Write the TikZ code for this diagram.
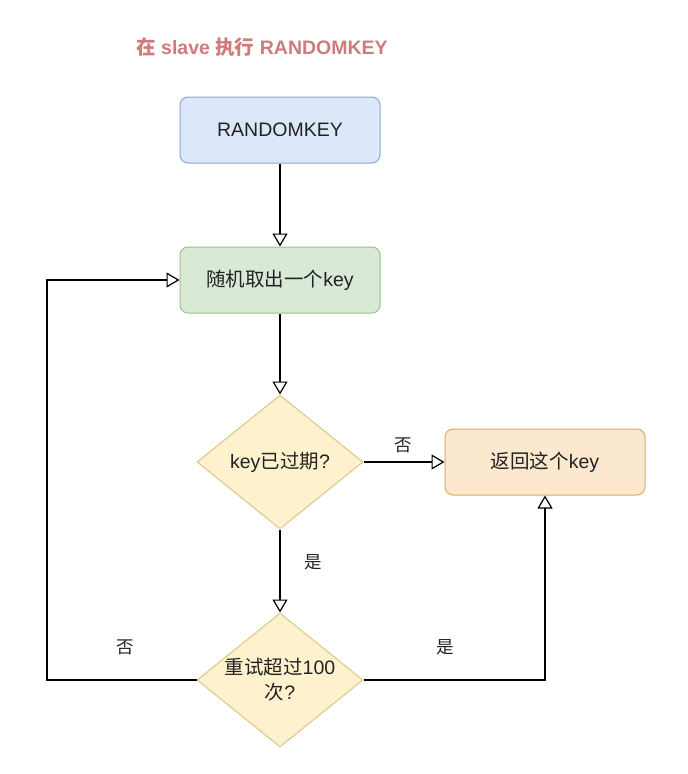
\documentclass[tikz,border=0pt]{standalone}
\usepackage{fontspec}
\setmainfont{Liberation Sans}
\newfontfamily\cjk{Noto Sans CJK SC}
\usetikzlibrary{arrows.meta,shapes.geometric}
\definecolor{bluefill}{HTML}{DCE7FA}
\definecolor{blueline}{HTML}{8EA6CC}
\definecolor{greenfill}{HTML}{D8EAD6}
\definecolor{greenline}{HTML}{9CC08A}
\definecolor{yelfill}{HTML}{FDF2CD}
\definecolor{yelline}{HTML}{DCC587}
\definecolor{orafill}{HTML}{FCE8CF}
\definecolor{oraline}{HTML}{D8AE5E}
\definecolor{titlered}{HTML}{CF7B7B}
\definecolor{txt}{HTML}{222222}
\begin{document}
\begin{tikzpicture}[x=1pt,y=-1pt,
  procbox/.style={rectangle, rounded corners=8pt, minimum width=200pt, minimum height=66pt, line width=1pt, font=\fontsize{19.5}{23}\selectfont, text=txt},
  decbox/.style={diamond, minimum width=166pt, minimum height=134pt, inner sep=-6pt, fill=yelfill, draw=yelline, line width=1pt, font=\fontsize{19.5}{25}\selectfont, text=txt, align=center},
  lbl/.style={font=\cjk\fontsize{17.5}{20}\selectfont, text=txt},
  arr/.style={line width=1.2pt, -{Triangle[open, length=13pt, width=15pt, line width=1.2pt]}}
]
\useasboundingbox (0,0) rectangle (688,774);

\node[font=\bfseries\fontsize{19.5}{22}\selectfont, text=titlered] (title) at (262,47) {{\cjk\bfseries 在} slave {\cjk\bfseries 执行} RANDOMKEY};

\node[procbox, fill=bluefill, draw=blueline] (rk) at (280,130) {RANDOMKEY};
\node[procbox, fill=greenfill, draw=greenline] (g) at (280,280) {{\cjk 随机取出一个}key};
\node[decbox] (d1) at (280,462) {key{\cjk 已过期}?};
\node[procbox, fill=orafill, draw=oraline] (ret) at (545,462) {{\cjk 返回这个}key};
\node[decbox] (d2) at (280,680) {{\cjk 重试超过}100\\{\cjk 次}?};

\coordinate (lc) at (47,680);

\draw[arr] (rk) -- (g);
\draw[arr] (g) -- (d1);
\draw[arr] (d1) -- (ret);
\draw[arr] (d1) -- (d2);
\draw[arr] (d2.east) -| (ret.south);
\draw[arr] (d2.west) -- (lc) |- (g.west);

\node[lbl] (l1) at (403,445) {否};
\node[lbl] (l2) at (313,562) {是};
\node[lbl] (l3) at (125,647) {否};
\node[lbl] (l4) at (445,647) {是};
\end{tikzpicture}
\end{document}
